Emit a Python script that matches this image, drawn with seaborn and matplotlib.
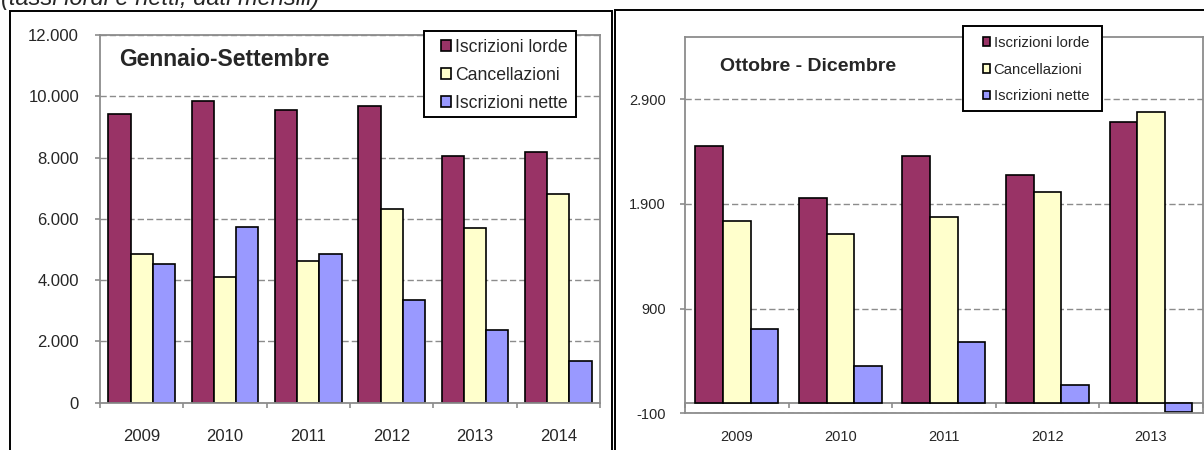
import matplotlib
matplotlib.use("Agg")
import matplotlib.pyplot as plt
import seaborn as sns
import pandas as pd
from matplotlib.ticker import FuncFormatter, FixedLocator
from matplotlib.patches import Rectangle, Patch

# Gennaio-Settembre
years_gs = ["2009", "2010", "2011", "2012", "2013", "2014"]
lorde_gs = [9410, 9840, 9540, 9670, 8060, 8180]
canc_gs = [4840, 4090, 4640, 6320, 5700, 6820]
nette_gs = [4520, 5750, 4840, 3350, 2370, 1370]

# Ottobre - Dicembre
years_od = ["2009", "2010", "2011", "2012", "2013"]
lorde_od = [2450, 1960, 2360, 2180, 2680]
canc_od = [1740, 1615, 1780, 2010, 2775]
nette_od = [710, 350, 580, 170, -90]

series = ["Iscrizioni lorde", "Cancellazioni", "Iscrizioni nette"]
colors = ["#993366", "#FFFFCC", "#9999FF"]

sns.set_style("white")
plt.rcParams["font.family"] = ["Liberation Sans", "DejaVu Sans"]

GRAY = "#8c8c8c"
W, H = 1204, 450


def long_frame(years, lorde, canc, nette):
    rows = []
    for name, vals in zip(series, [lorde, canc, nette]):
        for y, v in zip(years, vals):
            rows.append({"anno": y, "serie": name, "valore": v})
    return pd.DataFrame(rows)


def it_thousands(v, _pos):
    return f"{int(round(v)):,}".replace(",", ".")


def fx(px):
    return px / W


def fy(py):
    return 1 - py / H


def box(x0, y0, x1, y1, lw=1.4):
    fig.add_artist(Rectangle((fx(x0), fy(y1)), fx(x1 - x0), (y1 - y0) / H,
                             transform=fig.transFigure, fill=True, fc="white",
                             ec="black", lw=lw, zorder=5))


fig = plt.figure(figsize=(W / 100, H / 100), dpi=100)

# outer frames of the two panels
fig.add_artist(Rectangle((fx(10), -0.1), fx(612 - 10), fy(11) + 0.1,
                         transform=fig.transFigure, fill=False, ec="black", lw=1.4))
fig.add_artist(Rectangle((fx(615), -0.1), 0.6, fy(10) + 0.1,
                         transform=fig.transFigure, fill=False, ec="black", lw=1.4))

fig.text(fx(1), fy(5), "(tassi lordi e netti, dati mensili)", fontsize=17,
         style="italic", va="baseline", ha="left")


def style_axes(ax, n, label_size, ylab_pad, xlab_pad):
    for s in ax.spines.values():
        s.set_color(GRAY)
        s.set_linewidth(1.3)
    ax.set_xlabel("")
    ax.set_ylabel("")
    ax.yaxis.set_major_formatter(FuncFormatter(it_thousands))
    ax.tick_params(axis="y", which="major", left=True, length=3.6, width=1.2,
                   color=GRAY, pad=ylab_pad, labelsize=label_size, direction="out")
    ax.tick_params(axis="x", which="major", length=0, pad=xlab_pad, labelsize=label_size)
    ax.grid(axis="y", color=GRAY, linestyle=(0, (4.5, 2.2)), linewidth=1.0)
    ax.set_axisbelow(True)
    ax.set_xlim(-0.5, n - 0.5)


legend_handles = [Patch(facecolor=c, edgecolor="black", linewidth=1.2) for c in colors]

# ---------------- left panel ----------------
ax1 = fig.add_axes([fx(100), fy(402.7), fx(600 - 100), (402.7 - 35) / H])
df1 = long_frame(years_gs, lorde_gs, canc_gs, nette_gs)
sns.barplot(data=df1, x="anno", y="valore", hue="serie", hue_order=series,
            palette=colors, saturation=1, width=0.8, edgecolor="black",
            linewidth=1.2, legend=False, ax=ax1)
ax1.set_ylim(0, 12000)
ax1.set_yticks(range(0, 12001, 2000))
style_axes(ax1, len(years_gs), 12, 11.5, 19)
ax1.xaxis.set_minor_locator(FixedLocator([i - 0.5 for i in range(len(years_gs) + 1)]))
ax1.tick_params(axis="x", which="minor", bottom=True, length=3.6, width=1.2,
                color=GRAY, direction="out")
fig.text(fx(119), fy(66), "Gennaio-Settembre", fontsize=16.5, fontweight="bold",
         va="baseline", ha="left")
box(423.5, 30.7, 576, 116.7)
leg1 = fig.legend(legend_handles, series, loc="upper left",
                  bbox_to_anchor=(fx(441), fy(38.8)), bbox_transform=fig.transFigure,
                  fontsize=12.7, frameon=False, handlelength=0.58, handleheight=0.58,
                  handletextpad=0.22, labelspacing=0.62, borderpad=0, borderaxespad=0)
leg1.set_zorder(6)

# ---------------- right panel ----------------
ax2 = fig.add_axes([fx(685), fy(413.3), fx(1202.7 - 685), (413.3 - 36.5) / H])
df2 = long_frame(years_od, lorde_od, canc_od, nette_od)
sns.barplot(data=df2, x="anno", y="valore", hue="serie", hue_order=series,
            palette=colors, saturation=1, width=0.8, edgecolor="black",
            linewidth=1.2, legend=False, ax=ax2)
ax2.set_ylim(-100, 3500)
ax2.set_yticks([-100, 900, 1900, 2900])
style_axes(ax2, len(years_od), 10.5, 10, 12)
# category axis crossing at zero
sec = ax2.secondary_xaxis(0, transform=ax2.transData)
sec.spines["bottom"].set_color(GRAY)
sec.spines["bottom"].set_linewidth(1.3)
sec.xaxis.set_major_locator(FixedLocator([i - 0.5 for i in range(len(years_od) + 1)]))
sec.tick_params(axis="x", length=3.6, width=1.2, color=GRAY, direction="out",
                labelbottom=False)
fig.text(fx(720), fy(71), "Ottobre - Dicembre", fontsize=14, fontweight="bold",
         va="baseline", ha="left")
box(963, 26, 1101.7, 110.7)
leg2 = fig.legend(legend_handles, series, loc="upper left",
                  bbox_to_anchor=(fx(982.5), fy(35.8)), bbox_transform=fig.transFigure,
                  fontsize=10.7, frameon=False, handlelength=0.5, handleheight=0.5,
                  handletextpad=0.25, labelspacing=0.86, borderpad=0, borderaxespad=0)
leg2.set_zorder(6)

fig.savefig("out.png", dpi=100)
